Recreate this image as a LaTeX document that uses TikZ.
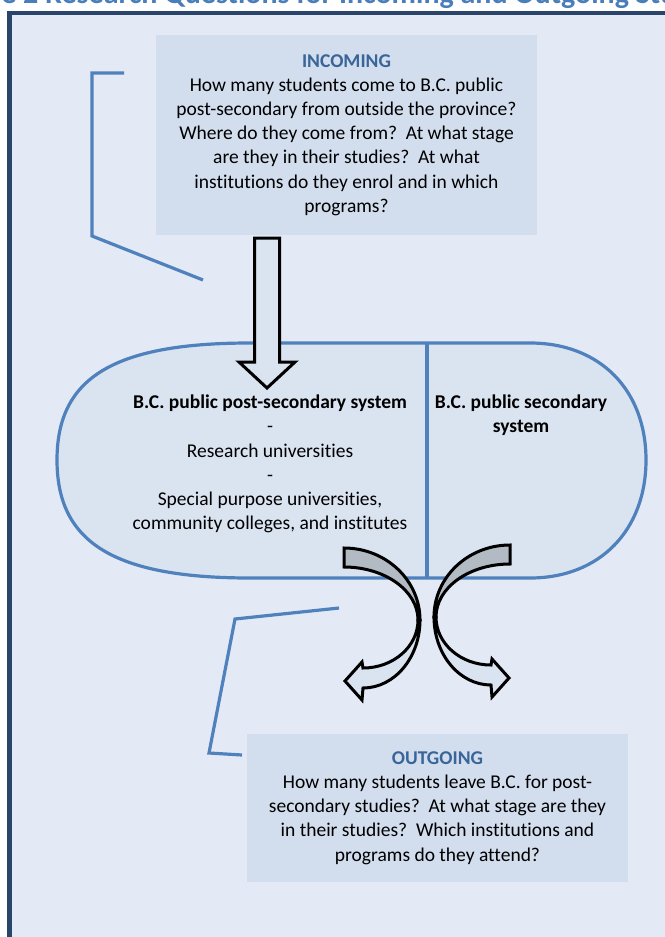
\documentclass[tikz,border=0pt]{standalone}
\usepackage{fontspec}
\setmainfont{Carlito}[Ligatures=NoCommon]
\usepackage{tikz}

\definecolor{pagebg}{HTML}{E4EAF5}
\definecolor{boxfill}{HTML}{D2DDED}
\definecolor{ovalfill}{HTML}{DAE3F0}
\definecolor{linkblue}{HTML}{4F81BD}
\definecolor{headblue}{HTML}{3A6598}
\definecolor{titleblue}{HTML}{4A7EBB}
\definecolor{framenavy}{HTML}{2A4569}
\definecolor{arrowgrey}{HTML}{B2BAC4}

\newcommand{\qfont}{\fontsize{19.5}{24.2}\selectfont}

\tikzset{
  qbox/.style={fill=boxfill, inner sep=0pt, align=center, font=\qfont},
  systext/.style={align=center, font=\qfont, inner sep=0pt},
  bracket/.style={draw=linkblue, line width=3.2pt},
  ovalline/.style={draw=linkblue, line width=3.2pt},
  blockarrow/.style={draw=black, line width=3pt},
  % curved arrow: grey back of the band, light front with the head
  turn arrow/.pic={
    \draw[blockarrow, fill=arrowgrey] (0,-72) arc[start angle=-90, end angle=0, x radius=76, y radius=72]
      -- (74,0) arc[start angle=0, end angle=-90, x radius=74, y radius=53] -- cycle;
    \draw[blockarrow, fill=ovalfill] (76,0) arc[start angle=0, end angle=90, x radius=57, y radius=68]
      -- (18,80) -- (1,61) -- (18,42) -- (19,48)
      arc[start angle=90, end angle=0, x radius=55, y radius=48] -- cycle;
  }
}

\begin{document}
\begin{tikzpicture}[x=1pt, y=-1pt]
  \useasboundingbox (0,0) rectangle (664,937);
  \fill[white] (0,0) rectangle (664,937);

  % heading and frame
  \node[anchor=base west, inner sep=0pt, text=titleblue,
        font=\fontsize{30}{31}\selectfont\bfseries] (title) at (23,3.5)
        {\llap{Figure }2 Research Questions for Incoming and Outgoing Students};
  \draw[draw=framenavy, line width=4.5pt, fill=pagebg] (9.5,13) rectangle (700,990);

  % the two systems
  \draw[ovalline, fill=ovalfill] (250,343) -- (530,343)
    .. controls (600,343) and (646,390) .. (646,460)
    .. controls (646,530) and (600,578) .. (530,578) -- (250,578)
    .. controls (110,578) and (57,540) .. (57,460)
    .. controls (57,380) and (110,343) .. (250,343) -- cycle;
  \draw[ovalline] (427,343) -- (427,578);

  \node[systext] (postsec) at (270,464)
    {\textbf{B.C. public post-secondary system}\\-\\Research universities\\-\\Special purpose universities,\\community colleges, and institutes};
  \node[systext] (secondary) at (521,415)
    {\textbf{B.C. public secondary}\\\textbf{system}};

  % question boxes
  \node[qbox, minimum width=381pt, minimum height=200pt] (incoming) at (346.5,135)
    {{\bfseries\color{headblue}INCOMING}\\How many students come to B.C. public\\post-secondary from outside the province?\\Where do they come from?\ \ At what stage\\are they in their studies?\ \ At what\\institutions do they enrol and in which\\programs?};
  \node[qbox, minimum width=381pt, minimum height=148pt] (outgoing) at (437.5,808)
    {{\bfseries\color{headblue}OUTGOING}\\How many students leave B.C. for post-\\secondary studies?\ \ At what stage are they\\in their studies?\ \ Which institutions and\\programs do they attend?};

  % brackets
  \draw[bracket] (124,73) -- (92,73) -- (92,236) -- (203,280);
  \draw[bracket] (339,608) -- (235,619) -- (209,753) -- (242,755);

  % arrow in
  \draw[blockarrow, fill=ovalfill] (254.5,238) -- (254.5,362) -- (239,362) -- (267,388)
    -- (295,362) -- (279.5,362) -- (279.5,238) -- cycle;

  % arrows out
  \pic at (344,620) {turn arrow};
  \pic[xscale=-1] at (510,617) {turn arrow};
\end{tikzpicture}
\end{document}
